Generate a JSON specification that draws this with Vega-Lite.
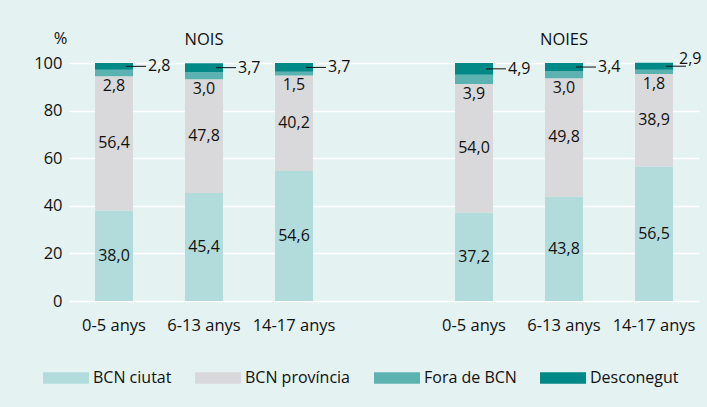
{
  "$schema": "https://vega.github.io/schema/vega-lite/v6.json",
  "width": 630,
  "height": 238,
  "autosize": {"type": "none"},
  "padding": {"left": 69, "top": 63, "right": 8, "bottom": 106},
  "background": "#e4f2f2",
  "config": {
    "locale": {"number": {"decimal": ",", "thousands": ".", "grouping": [3], "currency": ["", " €"]}},
    "view": {"stroke": null},
    "font": "Open Sans",
    "text": {"font": "Open Sans", "fontSize": 16, "color": "#111111"},
    "axisY": {
      "values": [0, 20, 40, 60, 80, 100],
      "domain": false,
      "ticks": false,
      "gridColor": "#ffffff",
      "gridWidth": 1.5,
      "gridOpacity": 1,
      "labelFontSize": 16.5,
      "labelPadding": 7,
      "labelColor": "#111111"
    }
  },
  "data": {
    "values": [
      {"slot": "NOIS|0-5 anys", "cat": "BCN ciutat", "v": 38.0},
      {"slot": "NOIS|0-5 anys", "cat": "BCN província", "v": 56.4},
      {"slot": "NOIS|0-5 anys", "cat": "Fora de BCN", "v": 2.8},
      {"slot": "NOIS|0-5 anys", "cat": "Desconegut", "v": 2.8},
      {"slot": "NOIS|6-13 anys", "cat": "BCN ciutat", "v": 45.4},
      {"slot": "NOIS|6-13 anys", "cat": "BCN província", "v": 47.8},
      {"slot": "NOIS|6-13 anys", "cat": "Fora de BCN", "v": 3.0},
      {"slot": "NOIS|6-13 anys", "cat": "Desconegut", "v": 3.7},
      {"slot": "NOIS|14-17 anys", "cat": "BCN ciutat", "v": 54.6},
      {"slot": "NOIS|14-17 anys", "cat": "BCN província", "v": 40.2},
      {"slot": "NOIS|14-17 anys", "cat": "Fora de BCN", "v": 1.5},
      {"slot": "NOIS|14-17 anys", "cat": "Desconegut", "v": 3.7},
      {"slot": "NOIES|0-5 anys", "cat": "BCN ciutat", "v": 37.2},
      {"slot": "NOIES|0-5 anys", "cat": "BCN província", "v": 54.0},
      {"slot": "NOIES|0-5 anys", "cat": "Fora de BCN", "v": 3.9},
      {"slot": "NOIES|0-5 anys", "cat": "Desconegut", "v": 4.9},
      {"slot": "NOIES|6-13 anys", "cat": "BCN ciutat", "v": 43.8},
      {"slot": "NOIES|6-13 anys", "cat": "BCN província", "v": 49.8},
      {"slot": "NOIES|6-13 anys", "cat": "Fora de BCN", "v": 3.0},
      {"slot": "NOIES|6-13 anys", "cat": "Desconegut", "v": 3.4},
      {"slot": "NOIES|14-17 anys", "cat": "BCN ciutat", "v": 56.5},
      {"slot": "NOIES|14-17 anys", "cat": "BCN província", "v": 38.9},
      {"slot": "NOIES|14-17 anys", "cat": "Fora de BCN", "v": 1.8},
      {"slot": "NOIES|14-17 anys", "cat": "Desconegut", "v": 2.9}
    ]
  },
  "transform": [
    {"calculate": "indexof(['BCN ciutat','BCN província','Fora de BCN','Desconegut'], datum.cat)", "as": "o"},
    {"stack": "v", "groupby": ["slot"], "sort": [{"field": "o", "order": "ascending"}], "as": ["y0", "y1"]},
    {"calculate": "(datum.y0 + datum.y1) / 2", "as": "mid"}
  ],
  "layer": [
    {
      "mark": {"type": "bar"},
      "encoding": {
        "x": {
          "field": "slot",
          "type": "nominal",
          "scale": {
            "domain": ["NOIS|0-5 anys", "NOIS|6-13 anys", "NOIS|14-17 anys", "gap", "NOIES|0-5 anys", "NOIES|6-13 anys", "NOIES|14-17 anys"],
            "paddingInner": 0.578,
            "paddingOuter": 0.289
          },
          "axis": {
            "orient": "bottom",
            "title": null,
            "domain": false,
            "ticks": false,
            "grid": false,
            "labelAngle": 0,
            "labelFontSize": 16.5,
            "labelColor": "#111111",
            "labelPadding": 16,
            "labelExpr": "indexof(datum.label, '|') >= 0 ? split(datum.label, '|')[1] : ''"
          }
        },
        "y": {
          "field": "y1",
          "type": "quantitative",
          "scale": {"domain": [0, 100], "nice": false},
          "axis": {
            "title": "%",
            "titleAngle": 0,
            "titleX": -9,
            "titleY": -25,
            "titleAlign": "center",
            "titleBaseline": "middle",
            "titleFontWeight": "normal",
            "titleFontSize": 16.5,
            "titleColor": "#111111"
          }
        },
        "y2": {"field": "y0"},
        "color": {
          "field": "cat",
          "type": "nominal",
          "scale": {
            "domain": ["BCN ciutat", "BCN província", "Fora de BCN", "Desconegut"],
            "range": ["#b2dcdc", "#d9d9db", "#5cb2b0", "#008986"]
          },
          "legend": {
            "title": null,
            "orient": "none",
            "legendX": -26,
            "legendY": 292,
            "direction": "horizontal",
            "symbolType": "M-1,-0.25H1V0.25H-1Z",
            "symbolSize": 2116,
            "symbolStrokeWidth": 0,
            "labelFontSize": 16,
            "labelColor": "#111111",
            "labelOffset": 4,
            "columnPadding": 23,
            "labelLimit": 300
          }
        }
      }
    },
    {
      "transform": [{"filter": "datum.o <= 1"}],
      "mark": {"type": "text", "baseline": "middle", "align": "center"},
      "encoding": {
        "x": {"field": "slot", "type": "nominal", "axis": null},
        "y": {"field": "mid", "type": "quantitative", "title": "%"},
        "text": {"field": "v", "type": "quantitative", "format": ".1f"}
      }
    },
    {
      "transform": [{"filter": "datum.cat == 'Fora de BCN'"}],
      "mark": {"type": "text", "baseline": "top", "align": "center", "dy": 2},
      "encoding": {
        "x": {
          "field": "slot",
          "type": "nominal",
          "axis": {
            "orient": "top",
            "title": null,
            "domain": false,
            "ticks": false,
            "grid": false,
            "labelAngle": 0,
            "labelFontSize": 16.5,
            "labelColor": "#111111",
            "labelPadding": 16,
            "labelExpr": "datum.label == 'NOIS|6-13 anys' ? 'NOIS' : (datum.label == 'NOIES|6-13 anys' ? 'NOIES' : '')"
          }
        },
        "y": {"field": "y0", "type": "quantitative", "title": "%"},
        "text": {"field": "v", "type": "quantitative", "format": ".1f"}
      }
    },
    {
      "transform": [{"filter": "datum.cat == 'Desconegut'"}],
      "mark": {"type": "tick", "xOffset": 22, "size": 20, "thickness": 1, "color": "#111111", "opacity": 1},
      "encoding": {
        "x": {"field": "slot", "type": "nominal", "axis": null},
        "y": {"field": "mid", "type": "quantitative", "title": "%"}
      }
    },
    {
      "transform": [{"filter": "datum.cat == 'Desconegut' && datum.slot != 'NOIES|14-17 anys'"}],
      "mark": {"type": "text", "baseline": "middle", "align": "left", "dx": 34},
      "encoding": {
        "x": {"field": "slot", "type": "nominal", "axis": null},
        "y": {"field": "mid", "type": "quantitative", "title": "%"},
        "text": {"field": "v", "type": "quantitative", "format": ".1f"}
      }
    },
    {
      "transform": [{"filter": "datum.cat == 'Desconegut' && datum.slot == 'NOIES|14-17 anys'"}],
      "mark": {"type": "text", "baseline": "middle", "align": "left", "dx": 25, "dy": -7},
      "encoding": {
        "x": {"field": "slot", "type": "nominal", "axis": null},
        "y": {"field": "mid", "type": "quantitative", "title": "%"},
        "text": {"field": "v", "type": "quantitative", "format": ".1f"}
      }
    }
  ]
}
